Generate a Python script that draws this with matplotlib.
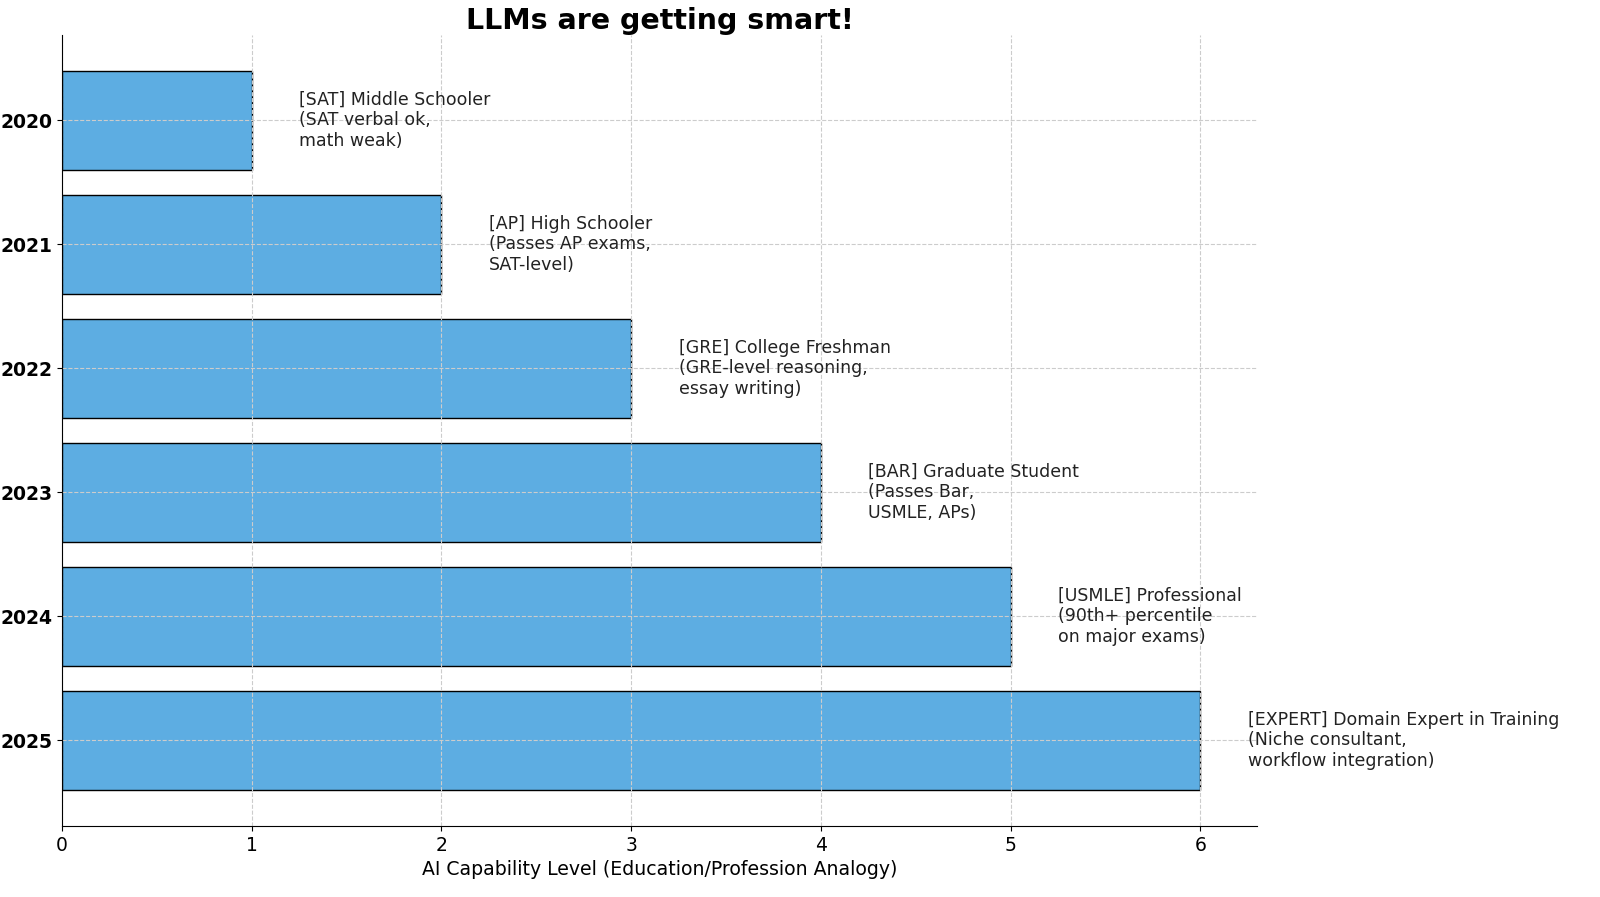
import matplotlib.pyplot as plt

years = ["2020", "2021", "2022", "2023", "2024", "2025"]
levels = [1, 2, 3, 4, 5, 6]
labels = [
    "[SAT] Middle Schooler\n(SAT verbal ok,\nmath weak)",
    "[AP] High Schooler\n(Passes AP exams,\nSAT-level)",
    "[GRE] College Freshman\n(GRE-level reasoning,\nessay writing)",
    "[BAR] Graduate Student\n(Passes Bar,\nUSMLE, APs)",
    "[USMLE] Professional\n(90th+ percentile\non major exams)",
    "[EXPERT] Domain Expert in Training\n(Niche consultant,\nworkflow integration)",
]

fig = plt.figure(figsize=(16, 8.97), dpi=100)
ax = fig.add_axes((0.03875, 0.0792, 0.747, 0.882))

ax.barh(years, levels, color="#5DADE2", edgecolor="black", height=0.8)
ax.invert_yaxis()

for i, (lvl, txt) in enumerate(zip(levels, labels)):
    ax.text(lvl + 0.25, i, txt, va="center", ha="left", fontsize=12.5, color="#222222")

ax.set_title("LLMs are getting smart!", fontsize=20.5, fontweight="bold", pad=2)
ax.set_xlabel("AI Capability Level (Education/Profession Analogy)", fontsize=13.6)
ax.tick_params(axis="x", labelsize=13.5)
ax.tick_params(axis="y", labelsize=13.5)
for t in ax.get_yticklabels():
    t.set_fontweight("bold")

ax.spines[["top", "right"]].set_visible(False)
for s in ("left", "bottom"):
    ax.spines[s].set_zorder(5)
ax.grid(True, linestyle="--", color="#cccccc", linewidth=0.8)
ax.set_axisbelow(False)

fig.savefig("out.png", dpi=100)
